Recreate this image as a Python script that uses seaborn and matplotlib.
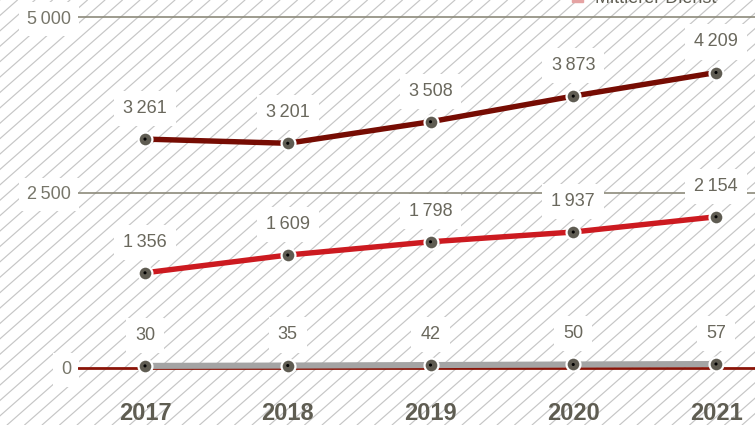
import numpy as np
import pandas as pd
import matplotlib
matplotlib.use("Agg")
import matplotlib.pyplot as plt
from matplotlib.lines import Line2D
from matplotlib.patches import Rectangle
import seaborn as sns

# --- data -------------------------------------------------------------
jahre = [2017, 2018, 2019, 2020, 2021]
reihe_oben = [3261, 3201, 3508, 3873, 4209]
reihe_mitte = [1356, 1609, 1798, 1937, 2154]
reihe_unten = [30, 35, 42, 50, 57]
reihen_namen = ["oben", "mitte", "unten"]
y_ticks = [0, 2500, 5000]
legenden_text = "Mittlerer Dienst"

farben = {"oben": "#760c03", "mitte": "#cc1a20", "unten": "#a4a4a4"}
breiten = {"oben": 3.9, "mitte": 3.9, "unten": 4.4}

df = pd.DataFrame({
    "Jahr": jahre * 3,
    "Wert": reihe_oben + reihe_mitte + reihe_unten,
    "Reihe": [n for n in reihen_namen for _ in jahre],
})


def fmt(v):
    return f"{v:,}".replace(",", "\u2009")


sns.set_theme(style="white")
plt.rcParams["font.family"] = ["Liberation Sans", "DejaVu Sans"]

W, H = 755, 425
fig = plt.figure(figsize=(W / 100, H / 100), dpi=100)
fig.patch.set_facecolor("white")

# diagonal hatching across the whole background
slope = 0.88
step = 17.5
hatch_col = "#c6c6c6"
x0 = -H / slope
while x0 < W:
    xs = np.array([x0, x0 + H / slope])
    ys = np.array([0, H])
    fig.add_artist(Line2D(xs / W, ys / H, transform=fig.transFigure,
                          color=hatch_col, lw=0.85, zorder=0))
    x0 += step

ax = fig.add_axes([78 / W, 33 / H, (W - 78) / W, (H - 33) / H])
ax.set_facecolor("none")
ax.set_zorder(2)

# grid and zero line
for t in y_ticks[1:]:
    ax.axhline(t, color="#8c8a7a", lw=1.2, zorder=1)
ax.axhline(0, color="#8a1408", lw=2.0, zorder=2)

for name in reihen_namen:
    sub = df[df["Reihe"] == name]
    sns.lineplot(data=sub, x="Jahr", y="Wert", color=farben[name],
                 lw=breiten[name], ax=ax, legend=False, zorder=3,
                 solid_capstyle="butt")

# markers: grey disc with white ring and a black centre
sns.scatterplot(data=df, x="Jahr", y="Wert", color="#5f5c52", s=100,
                edgecolor="white", linewidth=1.6, ax=ax, zorder=5,
                legend=False)
sns.scatterplot(data=df, x="Jahr", y="Wert", color="black", s=5,
                edgecolor="none", ax=ax, zorder=6, legend=False)

# value labels
label_col = "#6a685d"
for x, v in zip(df["Jahr"], df["Wert"]):
    ax.annotate(fmt(v), (x, v), xytext=(0, 22), textcoords="offset points",
                ha="center", va="center", fontsize=13, color=label_col,
                zorder=4,
                bbox=dict(boxstyle="square,pad=0.5", fc="white", ec="none"))

# scales
px_per_unit = (368 - 17) / 5000
ax.set_ylim(-(392 - 368) / px_per_unit, 5000 + 17 / px_per_unit)
px_per_year = (716 - 145) / 4
ax.set_xlim(2017 - (145 - 78) / px_per_year, 2021 + (W - 716) / px_per_year)

ax.set_yticks(y_ticks)
ax.set_yticklabels([fmt(t) for t in y_ticks], fontsize=13, color="#77766a")
ax.set_xticks(jahre)
ax.set_xticklabels([str(j) for j in jahre], fontsize=17, fontweight="bold",
                   color="#5f5d52")
ax.tick_params(axis="y", length=0, pad=5)
ax.tick_params(axis="x", length=0, pad=7)
for lab in ax.get_yticklabels():
    lab.set_bbox(dict(boxstyle="square,pad=0.45", fc="white", ec="none"))
ax.set_xlabel("")
ax.set_ylabel("")
for sp in ax.spines.values():
    sp.set_visible(False)
ax.grid(False)

# legend entry running off the top edge
fig.text(595 / W, (H - 3) / H, legenden_text, fontsize=13, color="#5f5d52",
         va="baseline", ha="left", zorder=3)
fig.add_artist(Rectangle((572 / W, (H - 2) / H), 11 / W, 6 / H,
                         transform=fig.transFigure, color="#e5a3a3", zorder=3))

fig.savefig("out.png", dpi=100, facecolor="white")
